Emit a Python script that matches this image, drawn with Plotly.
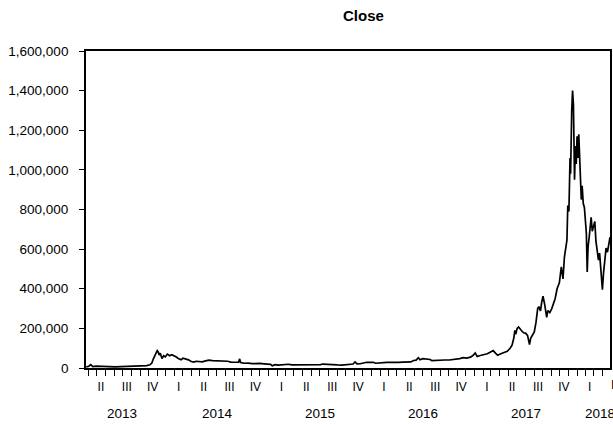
import plotly.graph_objects as go
import pandas as pd

dates = [
"2013-03-24","2013-04-02","2013-04-09","2013-04-16","2013-04-28","2013-05-12","2013-05-28","2013-06-15",
"2013-07-05","2013-07-25","2013-08-15","2013-09-05","2013-09-25","2013-10-10","2013-10-25","2013-11-05",
"2013-11-12","2013-11-17","2013-11-22","2013-11-27","2013-12-01","2013-12-05","2013-12-08","2013-12-12",
"2013-12-18","2013-12-24","2013-12-30","2014-01-06","2014-01-14","2014-01-22","2014-01-30","2014-02-07",
"2014-02-14","2014-02-24","2014-03-03","2014-03-12","2014-03-22","2014-04-01","2014-04-10","2014-04-18",
"2014-04-28","2014-05-10","2014-05-22","2014-06-03","2014-06-15","2014-06-28","2014-07-10","2014-07-25",
"2014-08-08","2014-08-20","2014-09-05","2014-09-16","2014-09-20","2014-09-23","2014-10-05","2014-10-20",
"2014-11-04","2014-11-18","2014-12-02","2014-12-16","2014-12-30","2015-01-08","2015-01-14","2015-01-24",
"2015-02-05","2015-02-18","2015-03-03","2015-03-12","2015-03-25","2015-04-08","2015-04-22","2015-05-08",
"2015-05-22","2015-06-05","2015-06-20","2015-07-05","2015-07-12","2015-07-25","2015-08-08","2015-08-19",
"2015-09-02","2015-09-18","2015-10-02","2015-10-18","2015-10-28","2015-11-04","2015-11-11","2015-11-22",
"2015-12-05","2015-12-16","2015-12-28","2016-01-08","2016-01-16","2016-01-28","2016-02-10","2016-02-25",
"2016-03-08","2016-03-22","2016-04-06","2016-04-22","2016-05-06","2016-05-20","2016-05-30","2016-06-08",
"2016-06-16","2016-06-22","2016-07-02","2016-07-16","2016-07-28","2016-08-03","2016-08-18","2016-09-02",
"2016-09-18","2016-10-04","2016-10-18","2016-10-30","2016-11-10","2016-11-22","2016-12-05","2016-12-18",
"2016-12-28","2017-01-04","2017-01-11","2017-01-22","2017-02-05","2017-02-16","2017-02-26","2017-03-09",
"2017-03-17","2017-03-25","2017-04-05","2017-04-18","2017-04-28","2017-05-08","2017-05-15","2017-05-21",
"2017-05-25","2017-05-28","2017-06-02","2017-06-07","2017-06-12","2017-06-18","2017-06-25","2017-07-02",
"2017-07-09","2017-07-16","2017-07-20","2017-07-25","2017-08-02","2017-08-08","2017-08-14","2017-08-18",
"2017-08-24","2017-08-28","2017-09-02","2017-09-08","2017-09-15","2017-09-19","2017-09-26","2017-10-03",
"2017-10-10","2017-10-15","2017-10-22","2017-10-30","2017-11-06","2017-11-12","2017-11-17","2017-11-22",
"2017-11-26","2017-11-29","2017-12-03","2017-12-07","2017-12-09","2017-12-13","2017-12-16","2017-12-19",
"2017-12-21","2017-12-23","2017-12-26","2017-12-29","2018-01-01","2018-01-04","2018-01-07","2018-01-10",
"2018-01-13","2018-01-16","2018-01-19","2018-01-23","2018-01-27","2018-01-31","2018-02-03","2018-02-06",
"2018-02-09","2018-02-13","2018-02-17","2018-02-20","2018-02-24","2018-02-28","2018-03-05","2018-03-09",
"2018-03-13","2018-03-18","2018-03-22","2018-03-27","2018-04-01","2018-04-05","2018-04-09","2018-04-14",
"2018-04-19","2018-04-24","2018-04-28",
]

close = [
6000, 9000, 17000, 7000, 9000, 8000, 8500, 7000,
5500, 6500, 7000, 8000, 8000, 9000, 12000, 16000,
25000, 45000, 58000, 72000, 88000, 80000, 66000, 74000,
48000, 62000, 56000, 70000, 62000, 67000, 63000, 55000,
48000, 42000, 50000, 46000, 41000, 33000, 30000, 34000,
31000, 31000, 36000, 40000, 37000, 36000, 37000, 35000,
34000, 30000, 30000, 29000, 46000, 28000, 24000, 25000,
22000, 24000, 23000, 21000, 20000, 18000, 11000, 17000,
14500, 16000, 17500, 19000, 16000, 16000, 14500, 15000,
14500, 14500, 15500, 17500, 20000, 18500, 18000, 14500,
15500, 15000, 15500, 17500, 20000, 31000, 21000, 21500,
25000, 29000, 28000, 29000, 24000, 26000, 25500, 28000,
28500, 27000, 28000, 30000, 30000, 30500, 38000, 40000,
52000, 42000, 47000, 44000, 43000, 37000, 39000, 40000,
40500, 40500, 42500, 48000, 47000, 52000, 50000, 55000,
64000, 76000, 58000, 63000, 68000, 72000, 80000, 88000,
75000, 64000, 72000, 78000, 84000, 100000, 115000, 150000,
190000, 170000, 200000, 207000, 195000, 188000, 178000, 176000,
165000, 118000, 150000, 165000, 182000, 230000, 300000, 310000,
288000, 330000, 362000, 320000, 255000, 290000, 280000, 300000,
330000, 350000, 400000, 430000, 510000, 450000, 560000, 600000,
645000, 820000, 790000, 1060000, 980000, 1300000, 1400000, 1330000,
1180000, 950000, 1120000, 1030000, 1170000, 1060000, 1180000, 1080000,
1010000, 850000, 920000, 830000, 810000, 750000, 680000, 485000,
610000, 660000, 740000, 760000, 690000, 710000, 740000, 640000,
600000, 545000, 580000, 505000, 395000, 480000, 555000, 605000,
585000, 630000, 660000,
]

y_tick_values = [0, 200000, 400000, 600000, 800000, 1000000, 1200000, 1400000, 1600000]
y_tick_labels = ["0", "200,000", "400,000", "600,000", "800,000",
                 "1,000,000", "1,200,000", "1,400,000", "1,600,000"]

quarter_centers = ["2013-05-15", "2013-08-15", "2013-11-15",
                   "2014-02-15", "2014-05-15", "2014-08-15", "2014-11-15",
                   "2015-02-15", "2015-05-15", "2015-08-15", "2015-11-15",
                   "2016-02-15", "2016-05-15", "2016-08-15", "2016-11-15",
                   "2017-02-15", "2017-05-15", "2017-08-15", "2017-11-15",
                   "2018-02-15"]
quarter_labels = ["II", "III", "IV",
                  "I", "II", "III", "IV",
                  "I", "II", "III", "IV",
                  "I", "II", "III", "IV",
                  "I", "II", "III", "IV",
                  "I"]

year_labels = ["2013", "2014", "2015", "2016", "2017", "2018"]
year_label_pos = ["2013-07-30", "2014-07-02", "2015-07-02", "2016-07-02", "2017-07-02", "2018-03-25"]

month_starts = [d.strftime("%Y-%m-%d") for d in pd.date_range("2013-04-01", "2018-04-01", freq="MS")]

FONT = "Liberation Sans, Arial, sans-serif"

fig = go.Figure()
fig.add_trace(go.Scatter(x=dates, y=close, mode="lines",
                         line=dict(color="black", width=1.7), hoverinfo="skip"))

fig.update_layout(
    width=613, height=425,
    margin=dict(l=86, r=3, t=51, b=57, autoexpand=False),
    paper_bgcolor="white", plot_bgcolor="white",
    showlegend=False,
    font=dict(family=FONT, color="black", size=13),
    xaxis=dict(
        type="date", range=["2013-03-23", "2018-04-28"], automargin=False,
        tickmode="array", tickvals=quarter_centers, ticktext=quarter_labels,
        ticks="outside", ticklen=7, tickcolor="rgba(0,0,0,0)",
        tickfont=dict(family=FONT, size=12, color="black"),
        minor=dict(tickmode="array", tickvals=month_starts, ticks="outside",
                   ticklen=6, tickwidth=1.2, tickcolor="black", showgrid=False),
        showline=True, linecolor="black", linewidth=1.8, mirror=True,
        showgrid=False, zeroline=False,
    ),
    yaxis=dict(
        range=[0, 1600000], automargin=False,
        tickmode="array", tickvals=y_tick_values, ticktext=y_tick_labels,
        ticks="outside", ticklen=5, tickwidth=1.2, tickcolor="black",
        ticklabelstandoff=8,
        tickfont=dict(family=FONT, size=13.5, color="black"),
        showline=True, linecolor="black", linewidth=1.8, mirror=True,
        showgrid=False, zeroline=False,
    ),
)

fig.add_annotation(text="<b>Close</b>", xref="paper", yref="paper",
                   x=0.529, y=1.113, xanchor="center", yanchor="middle",
                   showarrow=False, font=dict(family=FONT, size=15, color="black"))

for lab, pos in zip(year_labels, year_label_pos):
    fig.add_annotation(text=lab, xref="x", yref="paper", x=pos, y=-0.142,
                       xanchor="center", yanchor="middle", showarrow=False,
                       font=dict(family=FONT, size=13.5, color="black"))

# partially visible Q2 2018 label at the cropped right edge
fig.add_annotation(text="II", xref="paper", yref="paper", x=1.009, y=-0.054,
                   xanchor="center", yanchor="middle", showarrow=False,
                   font=dict(family=FONT, size=12, color="black"))

fig.write_html(
    "out.html",
    config={"displayModeBar": False},
    post_script="document.body.style.margin='0';document.body.style.overflow='hidden';",
)
